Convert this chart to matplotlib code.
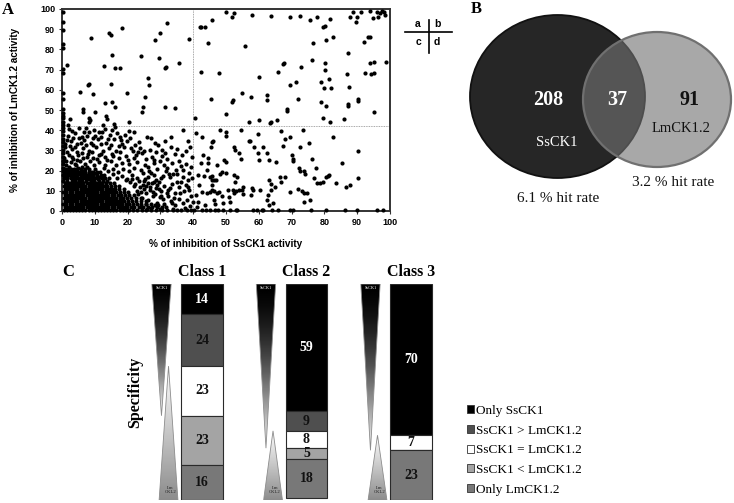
import numpy as np
import matplotlib
matplotlib.use("Agg")
import matplotlib.pyplot as plt
from matplotlib.patches import Ellipse, Polygon, Patch

SERIF = ["Liberation Serif", "DejaVu Serif"]
SANS = ["Liberation Sans", "DejaVu Sans"]

# datos panel A: % inhibicion SsCK1 (x) vs LmCK1.2 (y) ---------------------

axis_col = [(0.2, 98.3), (0.3, 93.4), (0.4, 89.6), (0.2, 82.5), (0.3, 80.9), (0.4, 70.1),
            (0.2, 68.5), (0.3, 58.6), (0.4, 55.3), (0.3, 50.5), (0.2, 48.6), (0.4, 47.1),
            (0.3, 45.9), (0.2, 44.2), (0.4, 42.8), (0.3, 41.0), (0.2, 39.4), (0.4, 37.6),
            (0.3, 35.8), (0.2, 34.1), (0.4, 32.3), (0.3, 30.4), (0.2, 28.7), (0.4, 26.9),
            (0.3, 25.0), (0.2, 23.3), (0.4, 21.5), (0.3, 19.6), (0.2, 17.8)]

upper_left = [(1.4, 72.1), (8.8, 85.8), (14.4, 88.3), (15.0, 87.3), (18.2, 90.8), (15.3, 77.2),
              (12.8, 72.0), (16.3, 71.0), (17.7, 70.6), (24.1, 76.7), (29.5, 75.9), (28.5, 84.8),
              (29.8, 88.3), (32.0, 93.1), (31.4, 71.0), (31.8, 71.1), (35.7, 73.1), (38.7, 85.0),
              (26.3, 66.0), (26.6, 62.5), (7.9, 62.4), (8.2, 63.0), (5.6, 58.8), (9.5, 57.8),
              (14.8, 62.9), (19.8, 58.6), (25.2, 56.5), (13.2, 53.6), (15.2, 54.1), (16.3, 51.5),
              (6.3, 50.7), (24.8, 51.7), (31.5, 51.5), (34.4, 51.0), (6.3, 48.9), (8.2, 46.2),
              (8.2, 43.9), (8.4, 44.9), (10.1, 49.2), (13.4, 47.2), (13.8, 45.5), (20.4, 43.9),
              (24.5, 48.9), (2.4, 45.5), (1.9, 42.5), (12.5, 42.8), (16.0, 43.3)]

upper_right = [(42.1, 91.2), (42.3, 91.0), (43.5, 91.0), (45.7, 94.6), (44.4, 83.2), (42.3, 68.8),
               (45.3, 55.4), (49.9, 98.5), (51.8, 95.9), (52.4, 98.2), (58.0, 97.0), (63.8, 96.5),
               (69.6, 96.0), (72.5, 96.7), (75.6, 94.7), (77.8, 96.0), (81.8, 95.0), (79.7, 91.2),
               (80.1, 91.4), (87.8, 96.0), (88.6, 98.4), (89.9, 96.0), (91.1, 98.7), (89.6, 93.8),
               (93.8, 99.2), (94.9, 95.4), (55.8, 81.8), (82.6, 86.0), (80.5, 84.7), (76.5, 83.2),
               (92.0, 83.7), (93.9, 86.2), (87.3, 78.1), (76.1, 74.8), (80.3, 73.4), (80.3, 69.6),
               (72.9, 71.4), (67.7, 73.1), (67.5, 72.6), (66.0, 69.0), (60.0, 66.2), (48.0, 68.5),
               (87.0, 67.7), (92.5, 68.2), (94.1, 67.8), (93.9, 73.1), (81.5, 65.4), (79.0, 64.0),
               (71.2, 64.0), (69.5, 62.2), (80.0, 60.7), (82.0, 60.7), (87.5, 61.2), (54.9, 58.3),
               (57.5, 56.6), (62.6, 57.4), (62.6, 55.1), (52.0, 54.9), (51.8, 54.1), (71.9, 55.2),
               (79.0, 54.2), (80.5, 52.0), (87.1, 53.1), (87.1, 51.8), (90.1, 55.5), (90.1, 54.7),
               (68.5, 50.5), (93.3, 86.3), (96.1, 98.7), (97.0, 98.2), (97.7, 99.2), (98.2, 98.7),
               (98.5, 97.0), (96.4, 96.2), (95.0, 73.8), (98.8, 73.8), (95.0, 68.3), (95.0, 49.0),
               (49.9, 48.0), (68.7, 49.7), (57.0, 44.2), (60.0, 45.0), (63.3, 43.7), (63.6, 43.9),
               (65.5, 45.2), (79.5, 45.9), (81.8, 43.9), (86.1, 45.5), (40.5, 45.9)]

lower_left = [(1.5, 16.2), (2.8, 17.5), (4.1, 16.0), (5.3, 18.4), (6.6, 16.8), (7.9, 17.9), (9.0, 16.1),
              (10.4, 18.6), (11.6, 16.7), (12.9, 17.6), (14.2, 16.3), (15.6, 18.1), (16.9, 16.5),
              (18.3, 17.2), (19.8, 16.0), (21.4, 17.8), (23.0, 16.4), (24.6, 18.9), (26.3, 16.9),
              (28.1, 17.6), (30.2, 16.2), (32.5, 18.4), (0.9, 19.6), (2.2, 20.8), (3.6, 19.3),
              (4.9, 21.2), (6.3, 19.8), (7.5, 21.7), (8.8, 19.5), (10.1, 20.9), (11.5, 19.2),
              (12.8, 21.4), (14.0, 19.9), (15.5, 21.0), (17.1, 19.4), (18.6, 20.6), (20.3, 19.7),
              (22.1, 21.5), (24.0, 20.1), (26.5, 19.6), (29.0, 20.8), (31.7, 19.9), (1.3, 22.9),
              (2.7, 24.1), (4.2, 22.6), (5.6, 24.6), (7.0, 23.1), (8.5, 24.8), (9.9, 22.8),
              (11.3, 24.3), (13.1, 23.0), (14.8, 24.9), (16.4, 22.7), (18.2, 24.0), (20.5, 23.3),
              (22.8, 24.5), (25.3, 22.9), (28.2, 23.6), (0.7, 26.2), (2.0, 27.5), (3.4, 25.9),
              (5.0, 27.9), (6.4, 26.4), (8.0, 28.3), (9.6, 26.1), (11.2, 27.6), (13.0, 26.6),
              (15.1, 28.0), (17.3, 26.0), (19.6, 27.4), (21.9, 26.3), (24.4, 28.5), (27.3, 26.9),
              (30.4, 27.2), (1.6, 29.4), (3.1, 30.8), (4.7, 29.1), (6.5, 31.2), (8.3, 29.8),
              (10.3, 31.5), (12.4, 29.6), (14.3, 31.0), (16.5, 29.9), (19.0, 31.8), (21.5, 29.5),
              (23.8, 31.1), (26.8, 30.2), (29.4, 32.6), (0.9, 33.0), (2.6, 34.6), (4.5, 33.3),
              (6.8, 35.0), (8.9, 33.6), (11.0, 35.4), (13.5, 33.9), (15.9, 35.6), (18.2, 33.4),
              (20.6, 36.0), (23.5, 34.2), (1.8, 37.0), (4.0, 38.4), (6.0, 36.8), (8.1, 38.9),
              (10.2, 37.3), (12.3, 39.1), (14.6, 37.6), (16.8, 38.7), (19.3, 37.8), (22.1, 39.0),
              (2.2, 40.6), (5.1, 40.9), (7.4, 41.3), (9.9, 40.2), (13.2, 40.8), (16.1, 41.5),
              (20.3, 39.8), (0.6, 16.5), (1.7, 18.0), (3.1, 18.9), (4.4, 17.2), (5.5, 15.8),
              (6.9, 18.1), (8.3, 15.9), (9.5, 17.4), (11.0, 15.7), (2.0, 21.9), (3.9, 23.4),
              (6.1, 22.0), (31.2, 22.6), (33.8, 18.5), (35.7, 25.0), (39.7, 26.7), (39.0, 31.6),
              (35.1, 30.8), (30.5, 30.0), (27.2, 36.2), (33.1, 36.6), (37.0, 39.9), (38.4, 34.9),
              (36.2, 22.4), (32.0, 25.8), (34.5, 28.1), (38.8, 19.0), (37.0, 20.1), (38.4, 15.4),
              (35.1, 14.3), (33.0, 16.8), (35.2, 18.2), (25.8, 36.5), (28.4, 33.9), (31.4, 34.9),
              (1.1, 24.6), (3.0, 26.7), (4.6, 25.3), (6.0, 28.8), (7.6, 26.9), (9.1, 29.3),
              (10.7, 25.7), (12.0, 28.4), (13.7, 25.4), (15.6, 27.2), (17.8, 29.0), (20.1, 25.1),
              (22.6, 27.8), (25.6, 25.7), (1.0, 31.6), (2.5, 32.3), (4.0, 31.9), (5.7, 33.9),
              (7.3, 32.5), (9.6, 32.9), (11.8, 33.0), (14.9, 32.8), (17.3, 32.2), (19.9, 34.5),
              (22.3, 32.9), (1.4, 35.2), (3.3, 36.3), (5.1, 35.9), (7.6, 37.3), (9.4, 36.0),
              (11.9, 36.6), (13.9, 35.8), (17.6, 36.4), (3.2, 39.6), (6.6, 39.3), (11.2, 38.9),
              (15.2, 40.0), (18.1, 35.1), (21.1, 31.2), (23.2, 29.2), (25.4, 15.8), (27.0, 18.9),
              (28.7, 15.3), (30.9, 17.5), (32.1, 21.4), (33.6, 23.9), (34.9, 20.2), (36.8, 17.0),
              (37.9, 23.3), (39.2, 21.6), (26.2, 21.8), (27.9, 25.1), (29.9, 24.6), (31.5, 28.5),
              (33.3, 31.6), (36.5, 27.6), (37.8, 29.8), (39.5, 16.4), (25.1, 29.6), (28.6, 29.4)]

mid_left = [(22.4, 13.6), (23.7, 11.9), (24.9, 14.8), (25.6, 12.4), (26.8, 10.6), (27.4, 13.8),
            (28.6, 11.5), (29.5, 14.2), (30.3, 9.8), (31.2, 12.6), (32.4, 10.4), (33.5, 13.5),
            (34.3, 8.7), (35.6, 11.8), (36.4, 14.6), (37.2, 9.9), (38.5, 12.1), (39.3, 7.6),
            (23.1, 8.2), (24.4, 6.4), (25.7, 8.9), (26.3, 5.2), (27.6, 7.4), (28.9, 4.1),
            (29.8, 6.8), (31.0, 3.6), (32.2, 7.2), (33.1, 5.0), (34.6, 2.9), (35.8, 6.1),
            (36.9, 3.8), (38.1, 5.4), (39.0, 2.3), (24.0, 2.2), (25.5, 3.7), (27.0, 1.6),
            (28.3, 2.8), (30.0, 1.2), (31.6, 1.9), (33.8, 1.0), (35.2, 0.6), (37.5, 1.5),
            (26.0, 0.8), (27.8, 9.6), (29.0, 12.9), (30.8, 5.7), (32.9, 11.4), (34.0, 6.4),
            (36.0, 9.1), (37.8, 13.1), (38.8, 10.2), (39.8, 4.6), (20.8, 14.4), (19.6, 15.2),
            (21.9, 12.2), (22.8, 10.1), (24.1, 9.6), (25.0, 11.0), (21.3, 15.6), (23.4, 14.9),
            (26.1, 13.9), (28.0, 14.6), (24.7, 12.9), (26.9, 12.0), (29.7, 10.9), (31.9, 8.7),
            (28.4, 8.3), (30.1, 7.6), (33.5, 3.9), (29.3, 2.9)]

lower_right = [(48.2, 40.1), (49.9, 39.3), (49.9, 37.3), (54.6, 39.9), (45.6, 34.3), (45.9, 34.8),
               (66.8, 39.8), (69.5, 36.5), (68.1, 35.5), (67.5, 32.2), (73.4, 40.1), (75.4, 33.7),
               (72.7, 31.5), (82.7, 36.8), (90.1, 29.6), (57.1, 34.6), (57.3, 34.9), (59.8, 38.1),
               (58.6, 31.9), (61.3, 31.9), (52.5, 31.9), (53.9, 28.9), (54.6, 25.8), (60.2, 25.2),
               (59.7, 28.5), (62.4, 28.9), (63.2, 25.2), (65.2, 24.1), (70.1, 27.7), (70.5, 25.6),
               (70.3, 24.8), (72.2, 21.1), (72.6, 20.0), (73.9, 19.6), (74.1, 18.5), (76.3, 25.8),
               (77.3, 21.5), (76.7, 16.5), (81.0, 17.5), (81.3, 17.7), (80.6, 17.0), (79.5, 14.2),
               (77.8, 14.1), (78.7, 14.1), (83.5, 13.7), (85.3, 23.6), (86.5, 12.1), (87.8, 12.7),
               (90.3, 16.2), (49.5, 25.2), (49.9, 24.4), (47.2, 22.8), (48.7, 19.5), (49.9, 18.7),
               (48.2, 18.2), (47.0, 15.4), (46.2, 15.4), (45.6, 17.5), (52.5, 17.8), (53.4, 17.0),
               (52.7, 14.5), (55.3, 12.0), (55.0, 10.4), (55.1, 8.3), (54.0, 10.4), (52.2, 10.4),
               (53.2, 10.1), (52.4, 9.1), (50.7, 10.4), (51.0, 7.1), (51.2, 4.6), (49.1, 3.8),
               (46.2, 9.9), (47.2, 8.7), (48.0, 9.6), (46.2, 5.4), (46.7, 3.3), (48.8, 7.4),
               (45.1, 17.0), (45.6, 12.9), (45.1, 9.6), (57.9, 11.2), (58.3, 10.4), (57.6, 7.7),
               (60.4, 10.4), (62.9, 7.9), (62.4, 5.4), (64.4, 3.8), (63.2, 3.0), (63.7, 13.5),
               (64.9, 12.1), (63.6, 10.4), (63.2, 15.4), (66.5, 17.0), (68.0, 17.0), (66.7, 14.5),
               (69.5, 9.6), (72.0, 10.7), (73.1, 10.1), (73.8, 8.7), (74.6, 9.1), (73.7, 4.6),
               (75.6, 5.5), (42.6, 36.8), (45.4, 31.5), (43.1, 27.7), (44.6, 26.1), (44.4, 23.6),
               (42.3, 23.6), (44.1, 20.3), (41.6, 17.8), (43.4, 17.5), (45.6, 15.4), (41.9, 12.9),
               (42.6, 9.6), (44.1, 8.7), (45.6, 10.4), (40.8, 7.9), (41.6, 4.6), (43.6, 3.0),
               (41.1, 2.1), (52.7, 30.0), (40.9, 38.5), (89.8, 0.3)]

bottom_row_x = [40.2, 42.6, 43.8, 45.1, 46.6, 47.7, 49.2, 51.2, 53.0, 53.4, 58.1, 59.4, 60.9, 61.4,
                63.9, 65.9, 69.5, 70.4, 75.9, 80.5, 86.3, 96.0, 98.0]

# nucleo denso (fila y, valores x)
core_rows = [
    (0.4, [0.5, 1.4, 2.4, 3.3, 4.3, 5.2, 6.2, 7.1, 8.1, 9.0, 10.0, 10.9, 11.9, 12.8, 13.8, 14.7, 15.7,
           16.6, 17.6, 18.5, 19.5, 20.4, 21.6, 22.9, 24.3, 25.5, 27.1, 28.6, 30.4, 32.1, 33.9, 36.2,
           38.0, 39.4]),
    (1.9, [0.8, 1.8, 2.7, 3.7, 4.6, 5.6, 6.5, 7.5, 8.4, 9.4, 10.3, 11.3, 12.2, 13.2, 14.1, 15.1, 16.0,
           17.0, 17.9, 18.9, 19.8, 20.9, 22.1, 23.4, 24.8, 26.1, 27.4, 28.9, 30.6]),
    (3.4, [0.4, 1.3, 2.3, 3.2, 4.2, 5.1, 6.1, 7.0, 8.0, 8.9, 9.9, 10.8, 11.8, 12.7, 13.7, 14.6, 15.6,
           16.5, 17.5, 18.4, 19.4, 20.5, 21.7, 22.8, 24.1, 25.6, 27.2]),
    (4.9, [0.9, 1.9, 2.8, 3.8, 4.7, 5.7, 6.6, 7.6, 8.5, 9.5, 10.4, 11.4, 12.3, 13.3, 14.2, 15.2, 16.1,
           17.1, 18.0, 19.0, 20.1, 21.3, 22.6, 24.0, 25.7]),
    (6.4, [0.5, 1.4, 2.4, 3.3, 4.3, 5.2, 6.2, 7.1, 8.1, 9.0, 10.0, 10.9, 11.9, 12.8, 13.8, 14.7, 15.7,
           16.6, 17.6, 18.6, 19.8, 21.1, 22.5, 24.2]),
    (7.9, [0.8, 1.8, 2.7, 3.7, 4.6, 5.6, 6.5, 7.5, 8.4, 9.4, 10.3, 11.3, 12.2, 13.2, 14.1, 15.1, 16.0,
           17.0, 18.1, 19.3, 20.5, 21.8]),
    (9.4, [0.4, 1.3, 2.3, 3.2, 4.2, 5.1, 6.1, 7.0, 8.0, 8.9, 9.9, 10.8, 11.8, 12.7, 13.7, 14.6, 15.6,
           16.6, 17.7, 18.9, 20.2]),
    (10.9, [0.9, 1.9, 2.8, 3.8, 4.7, 5.7, 6.6, 7.6, 8.5, 9.5, 10.4, 11.4, 12.3, 13.3, 14.2, 15.2, 16.3,
            17.5, 18.8]),
    (12.4, [0.5, 1.4, 2.4, 3.3, 4.3, 5.2, 6.2, 7.1, 8.1, 9.0, 10.0, 10.9, 11.9, 12.8, 13.8, 14.9, 16.1,
            17.4]),
    (13.9, [0.8, 1.8, 2.7, 3.7, 4.6, 5.6, 6.5, 7.5, 8.4, 9.4, 10.3, 11.3, 12.3, 13.4, 14.6, 15.9]),
    (15.0, [0.4, 1.5, 2.9, 3.9, 5.2, 6.0, 7.4, 8.9, 9.7, 11.2, 12.6, 13.8]),
    (16.5, [0.6, 1.6, 2.6, 3.5, 4.5, 5.4, 6.4, 7.3, 8.3, 9.2, 10.2, 11.1, 12.1, 13.0]),
    (18.0, [0.9, 1.9, 2.8, 3.8, 4.7, 5.7, 6.6, 7.6, 8.5, 9.5, 10.6, 11.8]),
    (19.5, [0.5, 1.4, 2.4, 3.3, 4.3, 5.2, 6.2, 7.1, 8.2, 9.4, 10.7]),
    (21.0, [0.8, 1.8, 2.7, 3.7, 4.7, 5.8, 7.0, 8.3]),
]

# datos panel B ---------------------------------------------------------

venn_ss_only, venn_both, venn_lm_only = 208, 37, 91
venn_names = ["SsCK1", "LmCK1.2"]
hit_rates = ["6.1 % hit rate", "3.2 % hit rate"]

# datos panel C ---------------------------------------------------------

classes = ["Class 1", "Class 2", "Class 3"]
only_ss = [14, 59, 70]
ss_gt = [24, 9, 0]
ss_eq = [23, 8, 7]
ss_lt = [23, 5, 0]
only_lm = [16, 18, 23]
seg_labels = ["Only SsCK1", "SsCK1 > LmCK1.2", "SsCK1 = LmCK1.2", "SsCK1 < LmCK1.2", "Only LmCK1.2"]
seg_colors = ["#000000", "#4f4f4f", "#ffffff", "#a4a4a4", "#787878"]
seg_text = ["white", "#111111", "#111111", "#111111", "#111111"]

# figura ----------------------------------------------------------------

W, H = 734, 503
fig = plt.figure(figsize=(W / 100, H / 100), dpi=100)


def box(x0, y0, x1, y1):
    # caja en pixeles (y hacia abajo) -> fraccion de figura
    return [x0 / W, 1 - y1 / H, (x1 - x0) / W, (y1 - y0) / H]


# panel A ---------------------------------------------------------------

axA = fig.add_axes(box(62, 9, 390, 211))
pts = axis_col + upper_left + upper_right + lower_left + mid_left + lower_right
pts += [(x, 0.3) for x in bottom_row_x]
for yv, xr in core_rows:
    pts += [(x, yv) for x in xr]
xs = [p[0] for p in pts]
ys = [p[1] for p in pts]
axA.scatter(xs, ys, s=9, c="black", linewidths=0, clip_on=False, zorder=3)
axA.axvline(40, color="#8a8a8a", lw=0.6, ls=(0, (1, 1)), zorder=1)
axA.axhline(42, color="#8a8a8a", lw=0.6, ls=(0, (1, 1)), zorder=1)
axA.set_xlim(0, 100)
axA.set_ylim(0, 100)
axA.set_xticks(range(0, 101, 10))
axA.set_yticks(range(0, 101, 10))
axA.tick_params(length=2, width=0.8, labelsize=6.5, pad=3, color="#333333")
for lbl in axA.get_xticklabels() + axA.get_yticklabels():
    lbl.set_fontweight("bold")
    lbl.set_family(SANS)
for sp in axA.spines.values():
    sp.set_linewidth(1.4)
    sp.set_color("#333333")
axA.set_xlabel("% of inhibition of SsCK1 activity", fontsize=7.2, fontweight="bold", family=SANS)
axA.set_ylabel("% of inhibition of LmCK1.2 activity", fontsize=7.2, fontweight="bold", family=SANS)
axA.xaxis.set_label_coords(0.5, -0.139)
axA.yaxis.set_label_coords(-0.128, 0.5)

# panel C ---------------------------------------------------------------

axC = fig.add_axes(box(140, 284, 440, 500))
xpos = np.arange(len(classes))
bottom = np.zeros(len(classes))
for vals, col, tcol in zip([only_ss, ss_gt, ss_eq, ss_lt, only_lm], seg_colors, seg_text):
    vals = np.array(vals)
    axC.bar(xpos, vals, bottom=bottom, width=0.40, color=col, edgecolor="#2a2a2a", lw=0.8, zorder=3)
    for i, v in enumerate(vals):
        if v > 0:
            axC.text(xpos[i], bottom[i] + v / 2, str(v), ha="center", va="center", color=tcol,
                     fontsize=10, fontweight="bold", family=SERIF, zorder=4)
    bottom += vals

for i, name in enumerate(classes):
    axC.text(xpos[i], -5.6, name, ha="center", va="center", fontsize=11.5, fontweight="bold",
             family=SERIF, clip_on=False)

    # triangulos de especificidad
    up_apex = only_ss[i] + ss_gt[i]
    dn_apex = up_apex + ss_eq[i]
    ux0, ux1 = xpos[i] - 0.41, xpos[i] - 0.23
    t = np.linspace(0, 1, 256)[:, None]
    im = axC.imshow(1 - 0.45 * t, cmap="gray", vmin=0, vmax=1, extent=(ux0, ux1, 100, up_apex),
                    aspect="auto", interpolation="bilinear", zorder=1)
    tri = Polygon([(ux0, 100), (ux1, 100), ((ux0 + ux1) / 2, up_apex)], closed=True,
                  facecolor="none", edgecolor="#8c8c8c", lw=0.6, zorder=1.5)
    axC.add_patch(tri)
    im.set_clip_path(tri)

    dx0, dx1 = xpos[i] - 0.48, xpos[i] - 0.295
    im = axC.imshow(t ** 1.6, cmap="gray", vmin=0, vmax=1, extent=(dx0, dx1, dn_apex, 0),
                    aspect="auto", interpolation="bilinear", zorder=2)
    tri = Polygon([(dx0, 0), (dx1, 0), ((dx0 + dx1) / 2, dn_apex)], closed=True,
                  facecolor="none", edgecolor="#8c8c8c", lw=0.6, zorder=2.5)
    axC.add_patch(tri)
    im.set_clip_path(tri)

    axC.text((dx0 + dx1) / 2, 2.0, "SsCK1", ha="center", va="center", color="white",
             fontsize=3.2, family=SERIF, zorder=5)
    axC.text((ux0 + ux1) / 2 + 0.02, 95.6, "Lm\nCKL2", ha="center", va="center", color="#222222",
             fontsize=3.4, family=SERIF, linespacing=1.0, zorder=5)

axC.set_xlim(-0.593, 2.278)
axC.set_ylim(100, 0)
axC.axis("off")

handles = [Patch(facecolor=c, edgecolor="#333333", lw=0.6, label=l) for c, l in zip(seg_colors, seg_labels)]
fig.legend(handles=handles, loc="upper left", bbox_to_anchor=(467 / W, 1 - 405 / H),
           frameon=False, prop={"family": SERIF, "size": 9.5}, handlelength=0.55,
           handleheight=0.55, handletextpad=0.15, labelspacing=0.58, borderpad=0, borderaxespad=0)

# capa superior en pixeles: letras, clave, Venn ----------------------------

ov = fig.add_axes([0, 0, 1, 1])
ov.set_xlim(0, W)
ov.set_ylim(H, 0)
ov.axis("off")

for letter, (px, py) in zip("ABC", [(8, 10), (476, 9), (68, 272)]):
    ov.text(px, py, letter, ha="center", va="center", fontsize=12, fontweight="bold", family=SERIF)

ov.plot([405, 452], [32.3, 32.3], color="black", lw=1.2)
ov.plot([428.5, 428.5], [20, 53], color="black", lw=1.2)
for ch, (px, py) in zip("abcd", [(418, 24), (437, 24), (418, 42), (437, 42)]):
    ov.text(px, py, ch, ha="center", va="center", fontsize=7.5, fontweight="bold", family=SANS)

ov.add_patch(Ellipse((557.5, 96.5), 175, 163, facecolor="#262626", edgecolor="#111111", lw=1.3))
ov.add_patch(Ellipse((657, 99.5), 148, 135, facecolor=(0.45, 0.45, 0.45, 0.62),
                     edgecolor="#707070", lw=1.6))
ov.text(548, 100, str(venn_ss_only), ha="center", va="center", color="white", fontsize=14.5,
        fontweight="bold", family=SERIF)
ov.text(617, 100, str(venn_both), ha="center", va="center", color="white", fontsize=14.5,
        fontweight="bold", family=SERIF)
ov.text(690, 100, str(venn_lm_only), ha="center", va="center", color="#111111", fontsize=14.5,
        fontweight="bold", family=SERIF)
ov.text(557, 143, venn_names[0], ha="center", va="center", color="white", fontsize=10.5, family=SERIF)
ov.text(681, 128, venn_names[1], ha="center", va="center", color="#111111", fontsize=10.5, family=SERIF)
ov.text(558, 198, hit_rates[0], ha="center", va="center", color="#111111", fontsize=11, family=SERIF)
ov.text(673, 182, hit_rates[1], ha="center", va="center", color="#111111", fontsize=11, family=SERIF)
ov.text(135, 392, "Specificity", ha="center", va="center", rotation=90, fontsize=11.5,
        fontweight="bold", family=SERIF)

fig.savefig("out.png", dpi=100)
